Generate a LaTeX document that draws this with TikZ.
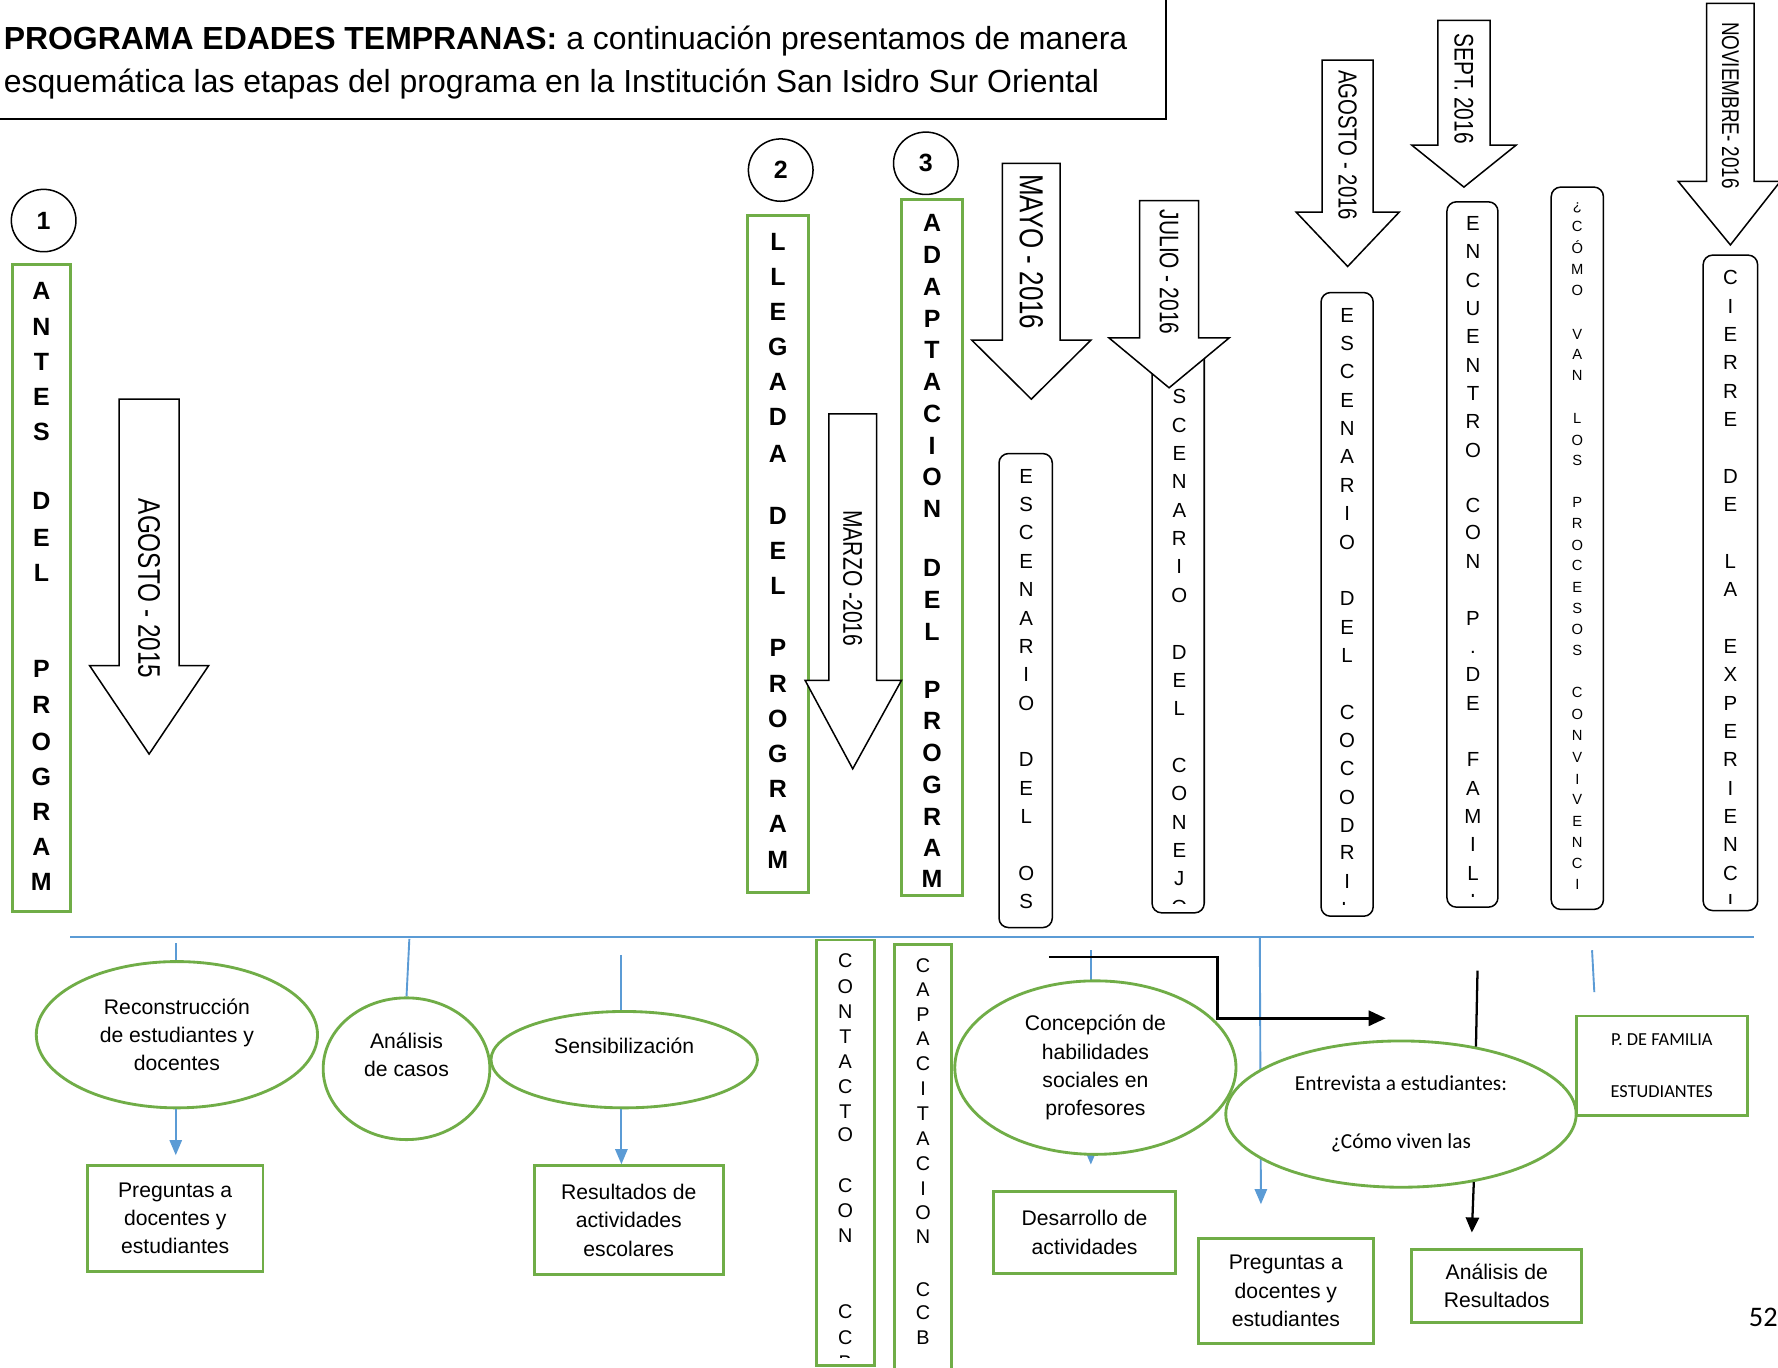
\documentclass[tikz,border=0pt]{standalone}
\usepackage{fontspec}
\setmainfont{Liberation Sans}
\newfontfamily\datefont[FakeStretch=0.78]{Liberation Sans}
\newfontfamily\calfont{Carlito}
\usetikzlibrary{shapes.geometric,arrows.meta}
\definecolor{grn}{HTML}{70AD47}
\definecolor{blu}{HTML}{5B9BD5}
\def\U{0.6pt}
\newcommand\vcol[4]{%
  \foreach \ch/\yy [count=\i] in {#4}{\node[inner sep=0,font=#3] (#1\i) at (#2,\yy) {\ch};}}
\newcommand\barrow[7]{%
  \draw[barr] (#1,#3) -- (#2,#3) -- (#2,#4) -- (#6,#4) -- ({(#1+#2)/2},#7) -- (#5,#4) -- (#1,#4) -- cycle;}
\begin{document}
\begin{tikzpicture}[x=0.6pt,y=-0.6pt,
  gbox/.style={draw=grn,line width=1.5pt,fill=white,inner sep=0},
  gell/.style={ellipse,draw=grn,line width=1.5pt,fill=white,inner sep=0,align=center,font=\fontsize{11.2}{15}\selectfont},
  rbox/.style={draw,line width=0.8pt,rounded corners=5pt,fill=white,inner sep=0},
  barr/.style={draw,line width=0.8pt,fill=white,line join=miter},
  num/.style={ellipse,draw,line width=0.8pt,minimum width=57*\U,minimum height=55*\U,inner sep=0,font=\bfseries\fontsize{13.2}{15}\selectfont},
  bl/.style={blu,line width=1pt},
  arr/.style={-{Triangle[length=8pt,width=6.5pt]}},
  txt/.style={align=center,font=\fontsize{11.2}{15}\selectfont,inner sep=0},
  date/.style={rotate=-90,inner sep=0},
]
\clip (0,0) rectangle (1568,1206);
\fill[white] (0,0) rectangle (1568,1206);

% title
\draw[line width=0.9pt] (-5,-5) rectangle (1028,105);
\node[anchor=west,align=left,inner sep=0,font=\fontsize{16.9}{22.8}\selectfont] (title) at (3,55)
  {\textbf{PROGRAMA EDADES TEMPRANAS:} a continuación presentamos de manera\\esquemática las etapas del programa en la Institución San Isidro Sur Oriental};

% numbers
\node[num] (n1) at (38.5,194.5) {1};
\node[num] (n2) at (688.5,150) {2};
\node[num] (n3) at (816.5,144) {3};

% green stage boxes
\def\bfl{\bfseries\fontsize{13.2}{15}\selectfont}
\node[gbox,minimum width=51*\U,minimum height=571*\U] (g1) at (36.5,518.5) {};
\vcol{a}{36.5}{\bfl}{A/257,N/288,T/319,E/350,S/381,D/442,E/474,L/505,P/590,R/622,O/654,G/685,R/716,A/747,M/778}
\node[gbox,minimum width=54*\U,minimum height=597*\U] (g2) at (686,488.5) {};
\vcol{b}{686}{\bfl}{L/213,L/244,E/275,G/306,A/337,D/368,A/400,D/455,E/486,L/517,P/571,R/603,O/634,G/665,R/696,A/727,M/758}
\node[gbox,minimum width=54*\U,minimum height=614*\U] (g3) at (822,483) {};
\vcol{c}{822}{\bfl}{A/197,D/225,A/253,P/281,T/309,A/337,C/365,I/393,O/421,N/449,D/501,E/529,L/557,P/608,R/636,O/664,G/692,R/720,A/748,M/775}

% rounded scenario boxes
\def\rgl{\fontsize{10.8}{13}\selectfont}
\node[rbox,minimum width=47*\U,minimum height=418*\U] (r1) at (904.5,609) {};
\begin{scope}\clip (881,400) rectangle (928,809);
\vcol{d}{905}{\rgl}{E/420,S/445,C/470,E/495,N/520,A/545,R/570,I/595,O/620,D/670,E/695,L/720,O/770,S/795}
\end{scope}
\node[rbox,minimum width=46*\U,minimum height=505*\U] (r2) at (1039,552.5) {};
\begin{scope}\clip (1016,300) rectangle (1062,797);
\vcol{e}{1040}{\rgl}{E/325,S/350,C/375,E/400,N/425,A/450,R/475,I/500,O/525,D/575,E/600,L/625,C/675,O/700,N/725,E/750,J/775,O/800}
\end{scope}
\node[rbox,minimum width=46*\U,minimum height=550*\U] (r3) at (1188,533) {};
\begin{scope}\clip (1165,258) rectangle (1211,798);
\vcol{f}{1188}{\rgl}{E/278,S/303,C/328,E/353,N/378,A/403,R/428,I/453,O/478,D/528,E/553,L/578,C/628,O/653,C/678,O/703,D/728,R/752,I/777,L/802}
\end{scope}
\node[rbox,minimum width=45*\U,minimum height=622*\U] (r4) at (1298.5,489) {};
\begin{scope}\clip (1276,178) rectangle (1321,791);
\vcol{g}{1299}{\rgl}{E/197,N/222,C/247,U/272,E/297,N/322,T/347,R/372,O/397,C/446,O/470,N/495,P/545,./575,D/595,E/620,F/670,A/695,M/720,I/745,L/770,I/795}
\end{scope}
\node[rbox,minimum width=46*\U,minimum height=637*\U] (r5) at (1391,483.5) {};
\begin{scope}\clip (1368,165) rectangle (1414,795);
\vcol{h}{1391}{\fontsize{7.8}{9}\selectfont}{¿/183,C/200,Ó/218,M/238,O/256,V/295,A/313,N/331,L/369,O/388,S/406,P/443,R/462,O/481,C/499,E/518,S/537,O/555,S/574,C/611,O/630,N/649,V/668,I/687,V/705,E/724,N/743,C/761,I/780}
\end{scope}
\node[rbox,minimum width=48*\U,minimum height=578*\U] (r6) at (1526,514) {};
\begin{scope}\clip (1502,225) rectangle (1550,797);
\vcol{k}{1526}{\rgl}{C/245,I/270,E/295,R/320,R/345,E/370,D/420,E/445,L/495,A/520,E/570,X/595,P/620,E/645,R/670,I/695,E/720,N/745,C/770,I/795,A/820}
\end{scope}

% block arrows
\barrow{105}{158}{352}{587}{79}{184}{665}
\barrow{731}{773}{365}{600}{710}{795}{678}
\barrow{884}{935}{144}{300}{857}{962}{352}
\barrow{1005}{1057}{177}{298}{978}{1084}{342}
\barrow{1166}{1211}{53}{187}{1143}{1234}{235}
\barrow{1268}{1314}{18}{128}{1245}{1337}{165}
\barrow{1505}{1547}{3}{160}{1480}{1570}{216}
\node[date,font=\datefont\fontsize{16.5}{18}\selectfont] (d1) at (131.5,519) {AGOSTO - 2015};
\node[date,font=\datefont\fontsize{14.3}{16}\selectfont] (d2) at (752,510) {MARZO -2016};
\node[date,font=\datefont\fontsize{17.6}{19}\selectfont] (d3) at (909.5,222) {MAYO - 2016};
\node[date,font=\datefont\fontsize{14.2}{16}\selectfont] (d4) at (1031,240) {JULIO - 2016};
\node[date,font=\datefont\fontsize{13.8}{16}\selectfont] (d5) at (1188.5,128) {AGOSTO - 2016};
\node[date,font=\datefont\fontsize{14.2}{16}\selectfont] (d6) at (1291,78) {SEPT. 2016};
\node[date,font=\datefont\fontsize{12.8}{15}\selectfont] (d7) at (1526,93) {NOVIEMBRE- 2016};

% blue line and stubs
\coordinate (hl) at (62,826); \coordinate (hr) at (1547,826);
\draw[bl] (hl) -- (hr);
\coordinate (s1) at (155,832);
\coordinate (s2) at (361,828);
\coordinate (s3) at (548,842);
\coordinate (s4) at (962,838); \coordinate (e4) at (962,1027);
\coordinate (s5) at (1111,826); \coordinate (e5) at (1112,1062);
\coordinate (s6) at (1404,838); \coordinate (e6) at (1406,875);
\draw[bl,arr] (s4) -- (e4);
\draw[bl,arr] (s5) -- (e5);
\draw[bl] (s6) -- (e6);

% ellipses
\node[gell,minimum width=248*\U,minimum height=129*\U] (rec) at (156,912.5) {Reconstrucción\\de estudiantes y\\docentes};
\node[gell,minimum width=147*\U,minimum height=125*\U] (ana) at (358.5,942.5) {Análisis\\de casos\\\mbox{}};
\node[gell,minimum width=235*\U,minimum height=85*\U] (sen) at (550.5,934.5) {Sensibilización\\\mbox{}};
\node[gell,minimum width=309*\U,minimum height=129*\U,font=\calfont\fontsize{11.3}{15.3}\selectfont] (ent) at (1235.5,982.5) {Entrevista a estudiantes:\\\mbox{}\\¿Cómo viven las};
\node[gell,minimum width=248*\U,minimum height=153*\U] (con) at (966,941.5) {Concepción de\\habilidades\\sociales en\\profesores};
\draw[bl] (s1) -- (s1 |- rec.north);
\draw[bl] (s2) -- (ana.north);
\draw[bl] (s3) -- (s3 |- sen.north);

% boxes
\node[gbox,txt,minimum width=155*\U,minimum height=93*\U] (pq1) at (154.5,1074.5) {Preguntas a\\docentes y\\estudiantes};
\node[gbox,txt,minimum width=167*\U,minimum height=96*\U] (res) at (554.5,1076) {Resultados de\\actividades\\escolares};
\node[gbox,txt,minimum width=161*\U,minimum height=72*\U] (des) at (956.5,1087) {Desarrollo de\\actividades};
\node[gbox,txt,minimum width=154*\U,minimum height=93*\U] (pq2) at (1134,1138.5) {Preguntas a\\docentes y\\estudiantes};
\node[gbox,align=center,font=\calfont\fontsize{9.7}{13.8}\selectfont,minimum width=151*\U,minimum height=88*\U] (pf) at (1465.5,940) {P. DE FAMILIA\\\mbox{}\\ESTUDIANTES};
\node[gbox,txt,minimum width=150*\U,minimum height=64*\U] (ar) at (1320,1134) {Análisis de\\Resultados};

\draw[bl,arr] (s1 |- rec.south) -- ([yshift=4.8pt]s1 |- pq1.north);
\draw[bl,arr] (sen.south -| s3) -- (s3 |- res.north);

% contacto / capacitacion
\node[gbox,minimum width=51*\U,minimum height=375*\U] (ct) at (745.5,1016.5) {};
\begin{scope}\clip (720,829) rectangle (771,1197);
\vcol{m}{745.5}{\fontsize{10.5}{12}\selectfont}{C/847,O/870,N/892,T/914,A/936,C/958,T/980,O/1001,C/1046,O/1068,N/1090,C/1157,C/1180,B/1202}
\end{scope}
\node[gbox,minimum width=50*\U,minimum height=382*\U] (cp) at (814,1024) {};
\begin{scope}\clip (789,833) rectangle (839,1206);
\vcol{p}{814}{\fontsize{10.5}{12}\selectfont}{C/852,A/873,P/895,A/916,C/938,I/960,T/982,A/1004,C/1026,I/1048,O/1069,N/1091,C/1137,C/1158,B/1180}
\end{scope}

% black connectors
\coordinate (b1) at (925,844); \coordinate (b2) at (1074,871); \coordinate (b3) at (1222,898);
\draw[line width=1.5pt,-{Triangle[length=9pt,width=8pt]}] (b1) -| (b2) |- (b3);
\coordinate (b4) at (1303,856);
\draw[line width=1.2pt] (b4) -- (ent.42);
\coordinate (b5) at (1298,1087);
\draw[line width=1.2pt,-{Triangle[length=8pt,width=7pt]}] (ent.-43) -- (b5);

% page number
\node[inner sep=0,font=\calfont\fontsize{15}{18}\selectfont] (pg) at (1555,1162) {52};
\end{tikzpicture}
\end{document}
